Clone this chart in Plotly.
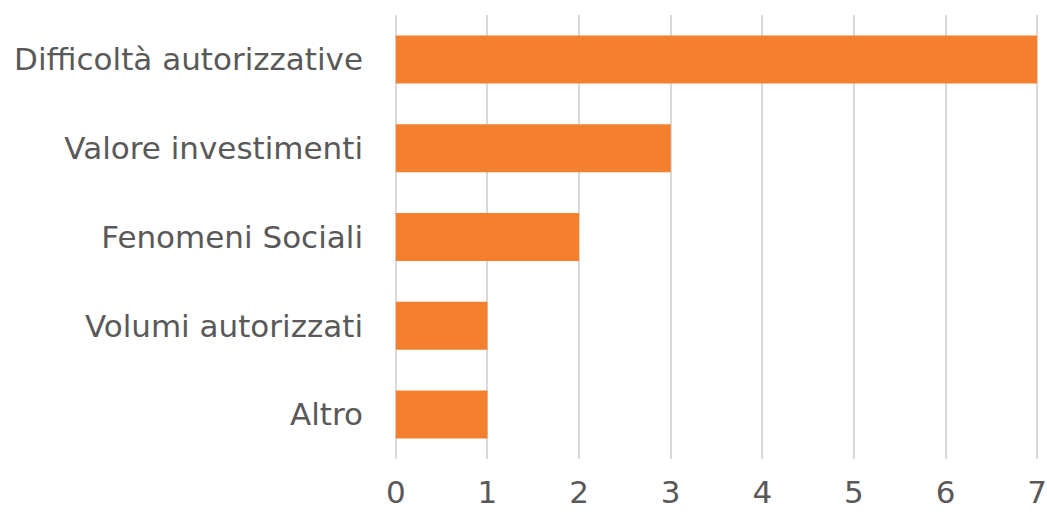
import plotly.graph_objects as go

categories = ["Difficoltà autorizzative", "Valore investimenti", "Fenomeni Sociali", "Volumi autorizzati", "Altro"]
values = [7, 3, 2, 1, 1]
x_ticks = [0, 1, 2, 3, 4, 5, 6, 7]

font_family = "DejaVu Sans, sans-serif"

fig = go.Figure(go.Bar(
    y=categories, x=values, orientation="h",
    marker=dict(color="#F4802F", line=dict(width=0)),
))

fig.update_layout(
    width=1047, height=514,
    margin=dict(l=394, r=8, t=15, b=55),
    paper_bgcolor="white", plot_bgcolor="white",
    bargap=0.46,
    showlegend=False,
    font=dict(family=font_family, color="#595959", size=31),
)
fig.update_xaxes(
    range=[-0.02, 7.02], tickvals=x_ticks, showgrid=True, gridcolor="#d9d9d9", gridwidth=2,
    zeroline=True, zerolinecolor="#d9d9d9", zerolinewidth=2,
    showline=False, ticks="", ticklabelstandoff=12, ticklabeloverflow="allow",
    tickfont=dict(size=31), automargin=False,
)
fig.update_yaxes(
    autorange="reversed", showgrid=False, zeroline=False, showline=False,
    ticks="", ticklabelstandoff=30, tickfont=dict(size=31), automargin=False,
)

fig.write_html(
    "out.html",
    config={"displayModeBar": False},
    post_script="document.body.style.margin='0';document.body.style.overflow='hidden';",
)
